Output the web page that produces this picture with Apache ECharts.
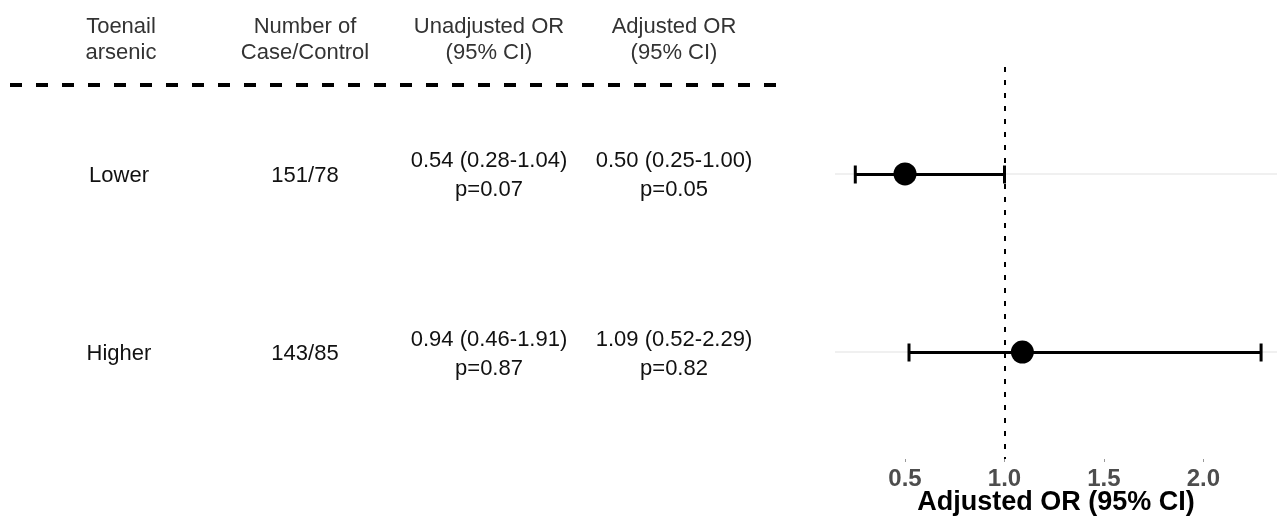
<!DOCTYPE html>
<html>
<head>
<meta charset="utf-8">
<script src="https://cdn.jsdelivr.net/npm/echarts@6/dist/echarts.min.js"></script>
<style>html,body{margin:0;padding:0;background:#fff}#c{width:1277px;height:523px}</style>
</head>
<body>
<div id="c"></div>
<script>
// ---- data ----
const groups = ['Lower', 'Higher'];
const counts = ['151/78', '143/85'];
const unadjOR = ['0.54 (0.28-1.04)', '0.94 (0.46-1.91)'];
const unadjP = ['p=0.07', 'p=0.87'];
const adjORtext = ['0.50 (0.25-1.00)', '1.09 (0.52-2.29)'];
const adjP = ['p=0.05', 'p=0.82'];
const adjEst = [0.50, 1.09];
const adjLow = [0.25, 0.52];
const adjHigh = [1.00, 2.29];
const headers = ['Toenail\narsenic', 'Number of\nCase/Control', 'Unadjusted OR\n(95% CI)', 'Adjusted OR\n(95% CI)'];
const xTicks = [0.5, 1.0, 1.5, 2.0];
const refValue = 1;
const axisTitle = 'Adjusted OR (95% CI)';

// ---- layout ----
const FONT = '"Liberation Sans", Arial, sans-serif';
const colX = [121, 305, 489, 674];
const rows = groups.map((g, i) => i + 1);

const chart = echarts.init(document.getElementById('c'), null, {renderer: 'canvas'});

function textSeries(xPos, texts) {
  return {
    type: 'scatter', xAxisIndex: 1, yAxisIndex: 1,
    symbolSize: 1, itemStyle: {color: 'rgba(0,0,0,0)', opacity: 1}, silent: true,
    data: rows.map((r, i) => ({value: [xPos, r], txt: texts[i]})),
    label: {
      show: true, position: 'inside', offset: [0, 2],
      formatter: p => p.data.txt,
      fontFamily: FONT, fontSize: 22, color: '#111', lineHeight: 29, align: 'center'
    }
  };
}

const option = {
  animation: false,
  backgroundColor: '#fff',
  grid: [
    {left: 835, right: 0, top: 67, bottom: 64, outerBoundsMode: 'none', containLabel: false},
    {left: 0, width: 835, top: 67, bottom: 64, outerBoundsMode: 'none', containLabel: false}
  ],
  xAxis: [
    {
      type: 'value', gridIndex: 0, min: 0.148, max: 2.37,
      axisLine: {show: false},
      axisTick: {show: true, length: 3, lineStyle: {color: '#999', width: 1}, customValues: xTicks},
      axisLabel: {
        customValues: xTicks, formatter: v => v.toFixed(1), margin: 8,
        fontFamily: FONT, fontSize: 24, fontWeight: 'bold', color: '#4d4d4d'
      },
      splitLine: {show: false},
      name: axisTitle, nameLocation: 'middle', nameGap: 30, nameMoveOverlap: false,
      nameTextStyle: {fontFamily: FONT, fontSize: 27, fontWeight: 'bold', color: '#000'}
    },
    {type: 'value', gridIndex: 1, min: 0, max: 835, show: false}
  ],
  yAxis: [
    {type: 'value', gridIndex: 0, min: 0.4, max: 2.6, inverse: true, show: false},
    {type: 'value', gridIndex: 1, min: 0.4, max: 2.6, inverse: true, show: false}
  ],
  graphic: [
    {
      type: 'line', shape: {x1: 10, y1: 85, x2: 786, y2: 85},
      style: {stroke: '#000', lineWidth: 4, lineDash: [12, 14]}
    }
  ].concat(headers.map((h, i) => ({
    type: 'text', x: colX[i], y: 40,
    style: {text: h, font: '22px ' + FONT, fill: '#333', textAlign: 'center', textVerticalAlign: 'middle', lineHeight: 26}
  }))),
  series: [
    {
      type: 'line', xAxisIndex: 0, yAxisIndex: 0, data: [], silent: true, z: 1,
      markLine: {
        silent: true, symbol: 'none', label: {show: false}, animation: false, z: 1,
        data: rows.map(r => ({yAxis: r, lineStyle: {color: '#ebebeb', width: 1.5, type: 'solid'}}))
          .concat([{xAxis: refValue, lineStyle: {color: '#000', width: 2, type: [5, 8]}}])
      }
    },
    {
      type: 'custom', xAxisIndex: 0, yAxisIndex: 0, silent: true,
      itemStyle: {opacity: 1},
      data: rows.map((r, i) => [adjLow[i], adjHigh[i], r]),
      renderItem: (params, api) => {
        const p1 = api.coord([api.value(0), api.value(2)]);
        const p2 = api.coord([api.value(1), api.value(2)]);
        const y = Math.round(p1[1]) + 0.5;
        const h = 9;
        const st = {stroke: '#000', lineWidth: 3, opacity: 1, fill: null};
        return {
          type: 'group', children: [
            {type: 'line', shape: {x1: p1[0], y1: y, x2: p2[0], y2: y}, style: st, z2: 10},
            {type: 'line', shape: {x1: p1[0], y1: y - h, x2: p1[0], y2: y + h}, style: st, z2: 10},
            {type: 'line', shape: {x1: p2[0], y1: y - h, x2: p2[0], y2: y + h}, style: st, z2: 10}
          ]
        };
      },
      z: 5
    },
    {
      type: 'scatter', xAxisIndex: 0, yAxisIndex: 0, silent: true,
      symbol: 'circle', symbolSize: 23, itemStyle: {color: '#000', opacity: 1},
      data: rows.map((r, i) => [adjEst[i], r]), z: 6
    },
    textSeries(colX[0] - 2, groups),
    textSeries(colX[1], counts),
    textSeries(colX[2], unadjOR.map((t, i) => t + '\n' + unadjP[i])),
    textSeries(colX[3], adjORtext.map((t, i) => t + '\n' + adjP[i]))
  ]
};
chart.setOption(option);
</script>
</body>
</html>
